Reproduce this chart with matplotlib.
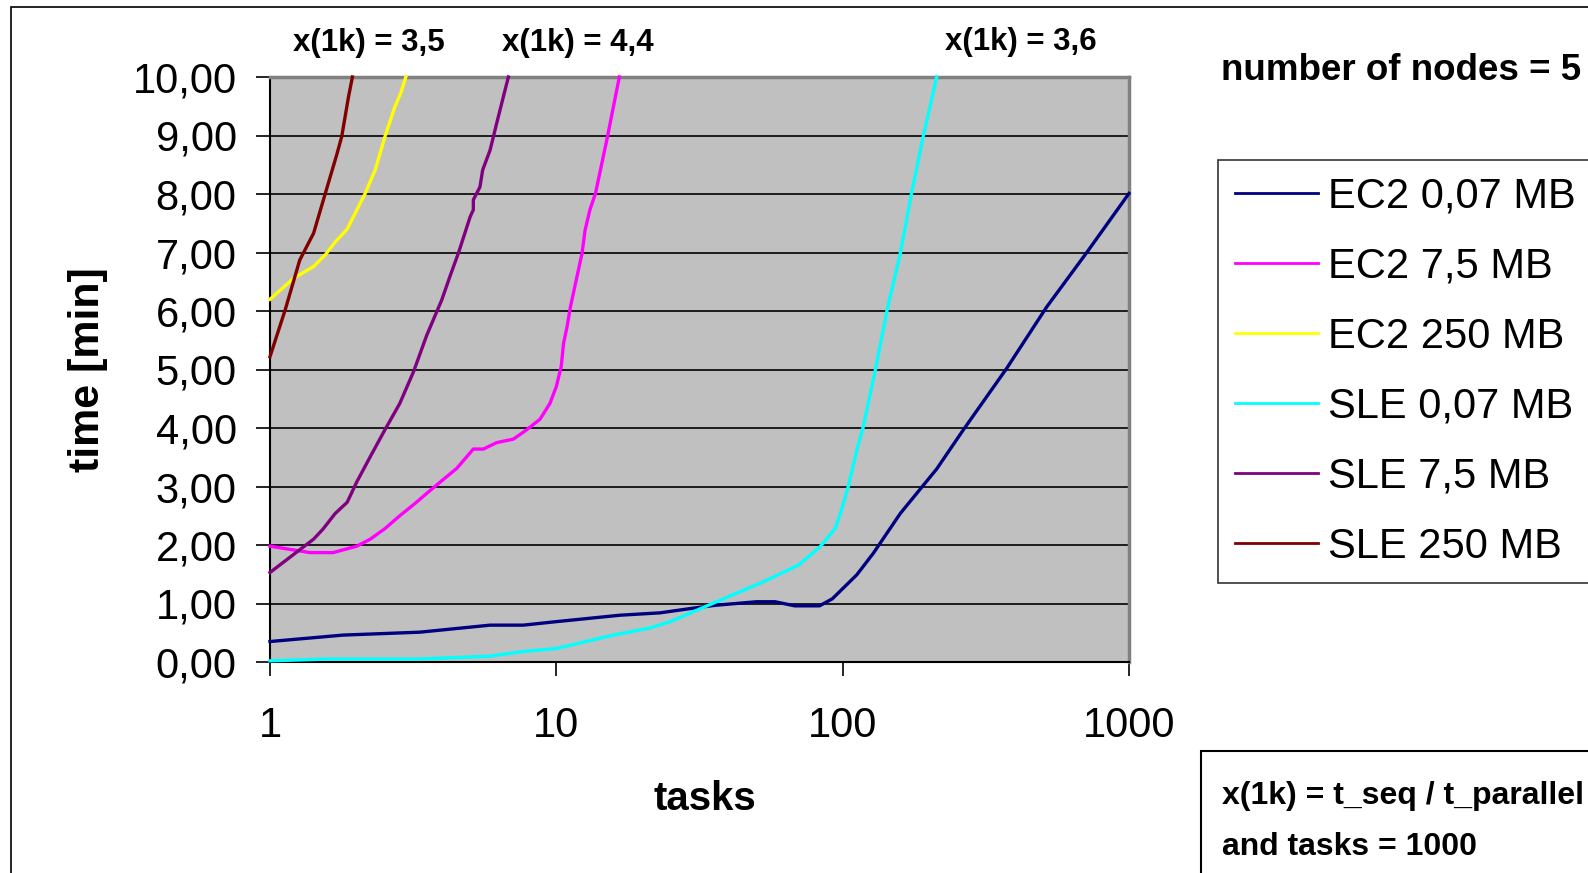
import matplotlib.pyplot as plt
from matplotlib.patches import Rectangle

# datos (tareas, tiempo en minutos)
ec2_007_x = [1, 1.8, 3.34, 5.87, 7.67, 10, 16.7, 23, 30, 36, 50, 58, 68, 83, 92, 112, 128, 159, 213, 264, 374, 516, 712, 1000]
ec2_007_y = [0.35, 0.46, 0.51, 0.63, 0.63, 0.69, 0.80, 0.84, 0.92, 0.97, 1.03, 1.03, 0.96, 0.96, 1.08, 1.49, 1.86, 2.54, 3.30, 3.97, 5.02, 6.07, 7.00, 8.01]

ec2_75_x = [1, 1.38, 1.66, 2.01, 2.24, 2.52, 2.84, 3.21, 3.62, 4.03, 4.49, 5.13, 5.56, 6.19, 7.08, 7.88, 8.77, 9.5, 10.0, 10.4, 10.6, 10.9, 11.2, 12.3, 12.6, 13.1, 13.7, 15.0, 16.6]
ec2_75_y = [1.98, 1.87, 1.87, 1.98, 2.10, 2.28, 2.50, 2.71, 2.93, 3.12, 3.31, 3.64, 3.64, 3.75, 3.81, 3.97, 4.15, 4.42, 4.71, 5.05, 5.45, 5.73, 6.07, 6.99, 7.38, 7.73, 8.01, 8.92, 10.0]

ec2_250_x = [1, 1.21, 1.42, 1.56, 1.69, 1.86, 2.15, 2.33, 2.52, 2.73, 2.86, 2.98]
ec2_250_y = [6.20, 6.56, 6.76, 6.96, 7.18, 7.40, 8.01, 8.41, 8.98, 9.49, 9.72, 10.0]

sle_007_x = [1, 1.6, 3.34, 5.87, 7.67, 10, 15.8, 21.2, 25, 36.3, 52.8, 70.3, 83.4, 94.1, 98.2, 104.6, 112, 118, 130, 143, 159, 174, 191, 213]
sle_007_y = [0.02, 0.05, 0.05, 0.10, 0.18, 0.23, 0.46, 0.58, 0.69, 1.03, 1.37, 1.66, 1.97, 2.28, 2.54, 3.0, 3.62, 4.02, 4.99, 6.02, 6.99, 8.01, 8.98, 10.0]

sle_75_x = [1, 1.42, 1.53, 1.69, 1.86, 2.01, 2.24, 2.52, 2.84, 3.17, 3.53, 3.98, 4.25, 4.55, 5.0, 5.13, 5.13, 5.41, 5.53, 5.87, 6.19, 6.53, 6.80]
sle_75_y = [1.53, 2.10, 2.27, 2.54, 2.73, 3.08, 3.51, 3.97, 4.42, 4.96, 5.59, 6.19, 6.59, 6.99, 7.61, 7.73, 7.90, 8.12, 8.41, 8.75, 9.21, 9.66, 10.0]

sle_250_x = [1, 1.13, 1.27, 1.42, 1.56, 1.71, 1.78, 1.88, 1.94]
sle_250_y = [5.22, 6.02, 6.87, 7.33, 8.01, 8.67, 8.98, 9.66, 10.0]

y_ticks = [0, 1, 2, 3, 4, 5, 6, 7, 8, 9, 10]
y_labels = ['0,00', '1,00', '2,00', '3,00', '4,00', '5,00', '6,00', '7,00', '8,00', '9,00', '10,00']
x_ticks = [1, 10, 100, 1000]
x_labels = ['1', '10', '100', '1000']

speedups = ['x(1k) = 3,5', 'x(1k) = 4,4', 'x(1k) = 3,6']


def make_plot():
    plt.rcParams['font.family'] = ['Liberation Sans', 'DejaVu Sans']
    W, H = 1588, 873
    fig = plt.figure(figsize=(W / 100, H / 100), dpi=100)
    ax = fig.add_axes([270 / W, 1 - 662 / H, (1129 - 270) / W, (662 - 77) / H])
    ax.set_facecolor('#C0C0C0')

    series = [
        (ec2_007_x, ec2_007_y, '#000080', 'EC2 0,07 MB'),
        (ec2_75_x, ec2_75_y, '#FF00FF', 'EC2 7,5 MB'),
        (ec2_250_x, ec2_250_y, '#FFFF00', 'EC2 250 MB'),
        (sle_007_x, sle_007_y, '#00FFFF', 'SLE 0,07 MB'),
        (sle_75_x, sle_75_y, '#800080', 'SLE 7,5 MB'),
        (sle_250_x, sle_250_y, '#800000', 'SLE 250 MB'),
    ]
    for x, y, c, lab in series:
        ax.plot(x, y, color=c, lw=2.4, label=lab, clip_on=False, zorder=3)

    ax.set_xscale('log')
    ax.set_xlim(1, 1000)
    ax.set_ylim(0, 10)
    ax.set_xticks(x_ticks)
    ax.set_xticklabels(x_labels)
    ax.minorticks_off()
    ax.set_yticks(y_ticks)
    ax.set_yticklabels(y_labels)
    for v in y_ticks[1:-1]:
        ax.axhline(v, color='black', lw=1.2, zorder=1)

    ax.tick_params(axis='y', direction='out', length=10, width=1.2, pad=14, labelsize=30)
    ax.tick_params(axis='x', direction='out', length=10, width=1.2, pad=22, labelsize=30)
    for s in ['top', 'right']:
        ax.spines[s].set_color('#808080')
        ax.spines[s].set_linewidth(2.5)
    for s in ['left', 'bottom']:
        ax.spines[s].set_color('black')
        ax.spines[s].set_linewidth(1.5)

    ax.set_xlabel('tasks', fontsize=29, fontweight='bold', labelpad=24)
    ax.set_ylabel('time [min]', fontsize=31, fontweight='bold', labelpad=18)
    ax.xaxis.label.set_x(0.5 + 5 / 859)

    # anotaciones
    fig.text(369 / W, 1 - 43 / H, speedups[0], fontsize=22.5, fontweight='bold', ha='center', va='center')
    fig.text(578 / W, 1 - 43 / H, speedups[1], fontsize=22.5, fontweight='bold', ha='center', va='center')
    fig.text(1021 / W, 1 - 42 / H, speedups[2], fontsize=22.5, fontweight='bold', ha='center', va='center')
    fig.text(1221 / W, 1 - 71 / H, 'number of nodes = 5', fontsize=26.5, fontweight='bold', ha='left', va='center')

    leg = ax.legend(loc='upper left', bbox_to_anchor=(1218 / W, 1 - 160 / H), bbox_transform=fig.transFigure,
                    fontsize=30, frameon=True, fancybox=False, borderaxespad=0, borderpad=0.4,
                    handlelength=2.0, handletextpad=0.25, labelspacing=0.72)
    leg.get_frame().set_edgecolor('black')
    leg.get_frame().set_linewidth(1.2)
    for line in leg.get_lines():
        line.set_linewidth(2)

    # recuadros
    fig.patches.append(Rectangle((11 / W, -0.1), 1.2, 1 - 7 / H + 0.1, transform=fig.transFigure,
                                 fill=False, edgecolor='black', lw=1.2))
    fig.patches.append(Rectangle((1201 / W, -0.1), 0.5, 1 - 751 / H + 0.1, transform=fig.transFigure,
                                 fill=False, edgecolor='black', lw=1.5))
    fig.text(1222 / W, 1 - 796 / H, 'x(1k) = t_seq / t_parallel', fontsize=23, fontweight='bold', ha='left', va='center')
    fig.text(1222 / W, 1 - 847 / H, 'and tasks = 1000', fontsize=23, fontweight='bold', ha='left', va='center')

    plt.savefig('out.png', dpi=100)


if __name__ == "__main__":
    make_plot()
